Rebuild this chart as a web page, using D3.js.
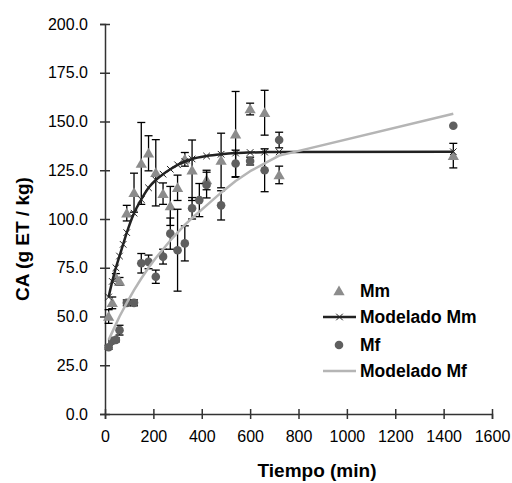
<!DOCTYPE html>
<html>
<head>
<meta charset="utf-8">
<script src="https://cdn.jsdelivr.net/npm/d3@7"></script>
<style>
  body { margin: 0; background: #fff; }
  svg { display: block; font-family: "Liberation Sans", Arial, sans-serif; }
  .tick text { font-size: 16px; fill: #000; }
  .legend text { font-size: 17.5px; font-weight: bold; fill: #000; }
  .title { font-size: 19px; font-weight: bold; fill: #000; }
</style>
</head>
<body>
<svg id="chart" width="512" height="483"></svg>
<script>
// observed data, Mm
const mmTime = [15, 30, 45, 60, 90, 120, 150, 180, 210, 240, 270, 300, 330, 360, 420, 480, 540, 600, 660, 720, 1440];
const mmValue = [50, 57, 70, 68, 103, 113.5, 128.5, 133.7, 123.7, 113, 106.7, 116, 130.6, 125, 120, 130, 143.4, 156.4, 154.5, 122.6, 132.5];
const mmErr = [3.5, 3, 2, 2, 4, 10, 21, 9, 17, 5.5, 10, 6.5, 3.5, 15.5, 5, 14, 22, 3, 11.5, 4.5, 6.3];

// observed data, Mf
const mfTime = [15, 30, 45, 60, 90, 120, 150, 180, 210, 240, 270, 300, 330, 360, 390, 420, 480, 540, 600, 660, 720, 1440];
const mfValue = [34.2, 37.5, 38, 43, 57, 57, 77.3, 78, 70.4, 80.7, 92.5, 84, 87.5, 105.5, 109.7, 117.4, 107, 128.5, 129.7, 125, 140.5, 147.8];
const mfErr = [1, 1, 1, 2.5, 1.5, 1.5, 5, 3.5, 3.4, 3.8, 8, 21, 9, 5.5, 8.5, 6.6, 7.5, 6.8, 2, 11, 4, 0];

// model curves
const modMmTime = [15, 30, 45, 60, 75, 90, 120, 150, 180, 210, 240, 270, 300, 330, 360, 420, 480, 540, 600, 660, 720, 1440];
const modMmValue = [60, 68, 75, 81, 87, 93, 103, 110, 116, 120, 123, 125.5, 127.8, 129.5, 130.8, 132.3, 133.2, 133.8, 134.1, 134.3, 134.4, 134.5];
const modMfTime = [15, 30, 60, 90, 120, 150, 180, 210, 240, 270, 300, 330, 360, 420, 480, 540, 600, 660, 720, 1440];
const modMfValue = [38, 42, 50, 57, 63.5, 69.5, 75, 80, 84.5, 89, 93, 97, 100.5, 107, 113.5, 119.5, 124.5, 128.5, 132.5, 154];

const xTicks = [0, 200, 400, 600, 800, 1000, 1200, 1400, 1600];
const yTicks = [0, 25, 50, 75, 100, 125, 150, 175, 200];

const colMm = '#8c8c8c', colMf = '#5f5f5f', colModMm = '#222', colModMf = '#b5b5b5';

const svg = d3.select('#chart');
const x = d3.scaleLinear().domain([0, 1600]).range([105, 492]);
const y = d3.scaleLinear().domain([0, 200]).range([414, 24]);

// axes
const yAxis = svg.append('g')
    .attr('transform', 'translate(105,0)')
    .call(d3.axisLeft(y).tickValues(yTicks).tickFormat(d3.format('.1f')).tickSizeOuter(0).tickSize(5).tickPadding(12));
yAxis.selectAll('.tick line').attr('x1', -5).attr('x2', 5);

const xAxis = svg.append('g')
    .attr('transform', 'translate(0,414)')
    .call(d3.axisBottom(x).tickValues(xTicks).tickFormat(d3.format('d')).tickSizeOuter(0).tickSize(5).tickPadding(12));
xAxis.selectAll('.tick line').attr('y1', -5).attr('y2', 5);

svg.selectAll('.domain, .tick line').attr('stroke', '#333').attr('stroke-width', 1.5);

svg.append('text').attr('class', 'title')
    .attr('x', 317).attr('y', 477).attr('text-anchor', 'middle')
    .text('Tiempo (min)');
svg.append('text').attr('class', 'title')
    .attr('transform', 'translate(29,239) rotate(-90)').attr('text-anchor', 'middle')
    .text('CA (g ET / kg)');

function errorBars(times, vals, errs) {
    const g = svg.append('g').attr('stroke', '#000').attr('stroke-width', 1.3);
    times.forEach((t, i) => {
        if (!errs[i]) return;
        const cx = x(t), y1 = y(vals[i] + errs[i]), y2 = y(vals[i] - errs[i]);
        g.append('line').attr('x1', cx).attr('x2', cx).attr('y1', y1).attr('y2', y2);
        g.append('line').attr('x1', cx - 4).attr('x2', cx + 4).attr('y1', y1).attr('y2', y1);
        g.append('line').attr('x1', cx - 4).attr('x2', cx + 4).attr('y1', y2).attr('y2', y2);
    });
}

const tri = d3.symbol().type(d3.symbolTriangle).size(55);
const xMark = d3.symbol().type(d3.symbolX).size(30);

// Mm
errorBars(mmTime, mmValue, mmErr);
svg.append('g').selectAll('path')
    .data(mmTime)
    .enter()
    .append('path')
    .attr('d', tri)
    .attr('transform', (d, i) => 'translate(' + x(d) + ',' + (y(mmValue[i]) + 1) + ')')
    .attr('fill', colMm);

// Modelado Mm
const smooth = d3.line().curve(d3.curveMonotoneX);
svg.append('path')
    .attr('d', smooth(modMmTime.map((t, i) => [x(t), y(modMmValue[i])])))
    .attr('fill', 'none').attr('stroke', colModMm).attr('stroke-width', 2.5);
svg.append('g').selectAll('path')
    .data(modMmTime)
    .enter()
    .append('path')
    .attr('d', xMark)
    .attr('transform', (d, i) => 'translate(' + x(d) + ',' + y(modMmValue[i]) + ')')
    .attr('fill', 'none').attr('stroke', colModMm).attr('stroke-width', 1);

// Mf
errorBars(mfTime, mfValue, mfErr);
svg.append('g').selectAll('circle')
    .data(mfTime)
    .enter()
    .append('circle')
    .attr('cx', d => x(d))
    .attr('cy', (d, i) => y(mfValue[i]))
    .attr('r', 4.3)
    .attr('fill', colMf);

// Modelado Mf
const straight = d3.line();
svg.append('path')
    .attr('d', straight(modMfTime.map((t, i) => [x(t), y(modMfValue[i])])))
    .attr('fill', 'none').attr('stroke', colModMf).attr('stroke-width', 2.5)
    .attr('stroke-linejoin', 'round');

// legend
const legend = svg.append('g').attr('class', 'legend');
const rows = [
    {name: 'Mm', y: 291},
    {name: 'Modelado Mm', y: 317},
    {name: 'Mf', y: 345},
    {name: 'Modelado Mf', y: 371}
];
legend.selectAll('text')
    .data(rows)
    .enter()
    .append('text')
    .attr('x', 360)
    .attr('y', d => d.y + 6)
    .text(d => d.name);
legend.append('path').attr('d', tri).attr('transform', 'translate(339,292)').attr('fill', colMm);
legend.append('line').attr('x1', 323).attr('x2', 356).attr('y1', 317).attr('y2', 317)
    .attr('stroke', colModMm).attr('stroke-width', 2.5);
legend.append('path').attr('d', xMark).attr('transform', 'translate(339.5,317)')
    .attr('fill', 'none').attr('stroke', colModMm).attr('stroke-width', 1);
legend.append('circle').attr('cx', 339).attr('cy', 345).attr('r', 4.3).attr('fill', colMf);
legend.append('line').attr('x1', 323).attr('x2', 356).attr('y1', 371).attr('y2', 371)
    .attr('stroke', colModMf).attr('stroke-width', 2.5);
</script>
</body>
</html>
